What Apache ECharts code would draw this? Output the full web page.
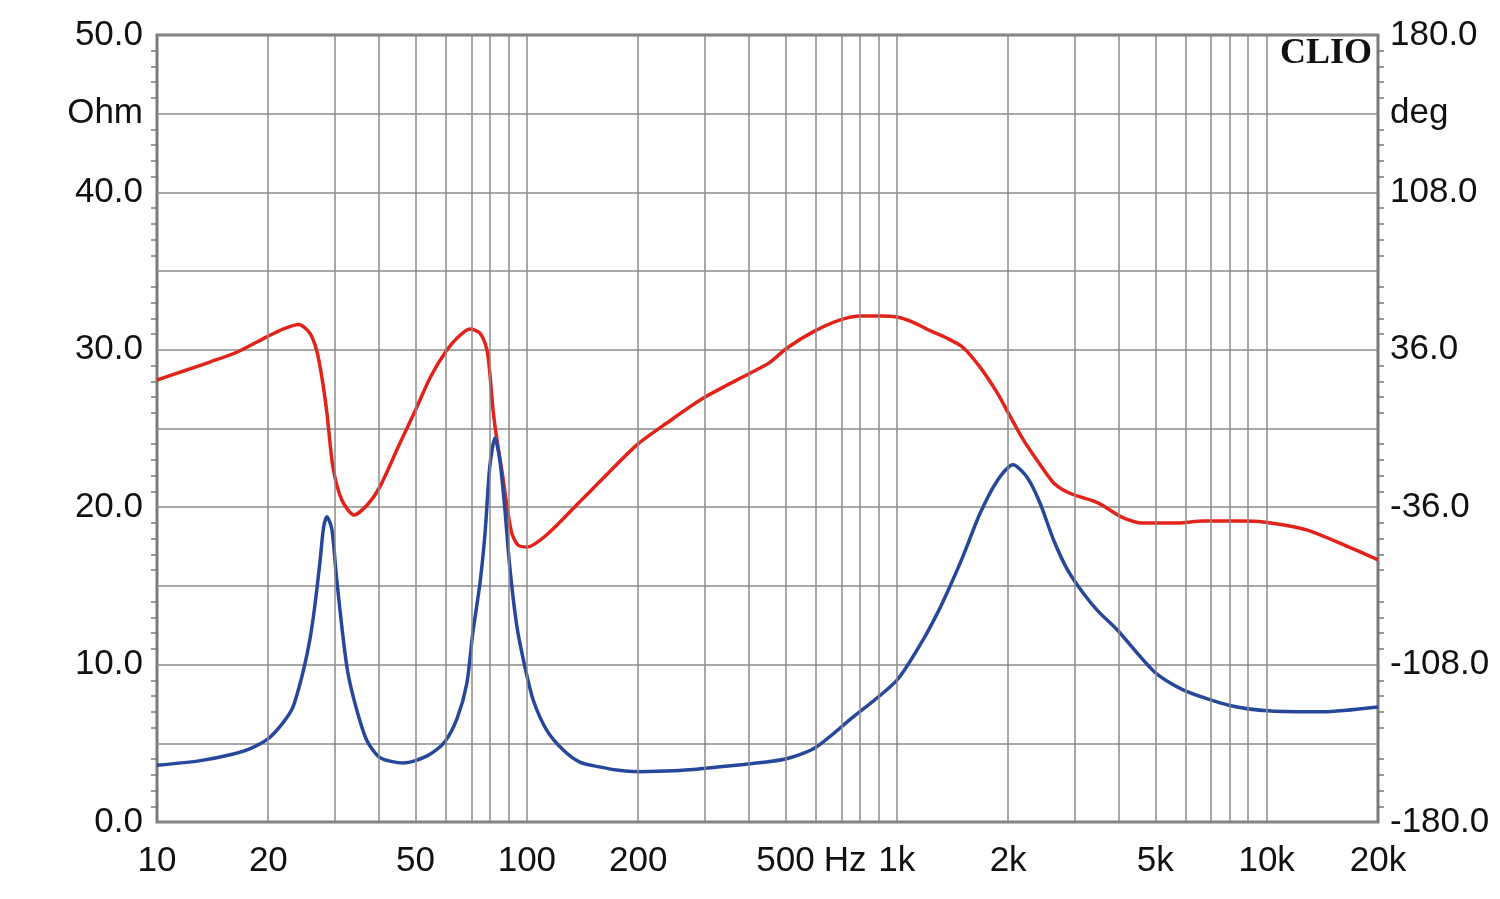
<!DOCTYPE html>
<html>
<head>
<meta charset="utf-8">
<script src="https://cdn.jsdelivr.net/npm/echarts@6/dist/echarts.min.js"></script>
<style>
  html, body { margin: 0; padding: 0; background: #fff; }
  #chart { width: 1500px; height: 899px; }
</style>
</head>
<body>
<div id="chart"></div>
<script>
// impedance magnitude (blue, Ohm)
const impFreq = [10, 13.1, 16, 17.8, 20, 21.9, 23.3, 24.8, 25.9, 26.7, 27.6, 28.2, 28.8, 29.7, 30.5, 31.6, 32.8, 34.7, 36.9, 40, 46.3, 50, 54.7, 60, 64.8, 68.8, 71.4, 74.7, 77.1, 79.4, 82, 84.5, 87.1, 89.9, 94, 98.9, 104, 113, 125, 139, 157, 175, 200, 250, 300, 402, 500, 600, 747, 1000, 1180, 1290, 1364, 1505, 1679, 1871, 2061, 2250, 2436, 2656, 2898, 3201, 3500, 3947, 4995, 5946, 7940, 10280, 14174, 20000]
const impOhm = [3.6, 3.9, 4.3, 4.65, 5.3, 6.3, 7.3, 9.5, 11.6, 13.7, 16.6, 18.7, 19.4, 18.6, 15.8, 12.4, 9.5, 7.1, 5.2, 4.1, 3.75, 3.9, 4.3, 5.1, 6.6, 8.8, 12.0, 15.2, 18.4, 22.6, 24.4, 23.0, 20.0, 16.2, 12.4, 9.8, 7.75, 5.85, 4.6, 3.8, 3.5, 3.3, 3.2, 3.25, 3.4, 3.7, 4.0, 4.7, 6.5, 9.0, 11.6, 13.3, 14.5, 16.8, 19.6, 21.7, 22.7, 21.9, 20.3, 17.9, 16.0, 14.5, 13.4, 12.2, 9.5, 8.4, 7.4, 7.05, 7.0, 7.3]

// impedance phase (red, deg)
const phaseFreq = [10, 11.8, 13.9, 16.5, 19.8, 21.9, 24.2, 25.9, 27, 27.9, 28.8, 29.9, 31.6, 34.1, 37, 40, 45, 50, 54.7, 60, 64.8, 70.2, 74.7, 78, 79.4, 81, 83, 85.8, 88.4, 91, 94.6, 100, 113, 139, 157, 198, 239, 300, 402, 452, 505, 592, 700, 800, 900, 1000, 1104, 1222, 1364, 1505, 1679, 1871, 2004, 2195, 2423, 2656, 2927, 3510, 4056, 4626, 5755, 6727, 8500, 9802, 12831, 16650, 20000]
const phaseDeg = [22.2, 26.3, 30.4, 35.0, 41.9, 45.5, 47.6, 43.6, 35.9, 23.6, 7.1, -17.6, -32.7, -39.6, -35, -26.8, -8, 8.5, 23.1, 34.5, 41.4, 45.5, 43.6, 35.9, 25.4, 8.5, -5.3, -20.4, -35.9, -47.8, -53.3, -54.2, -48.7, -33.5, -24.5, -7.6, 2.5, 13.9, 25.4, 30.0, 36.8, 44.1, 49.6, 51.5, 51.5, 51.0, 48.7, 45.0, 41.4, 37.3, 28.1, 16.2, 7.0, -5.0, -15.8, -24.9, -29.5, -34.1, -40.5, -43.2, -43.2, -42.3, -42.3, -42.8, -46.4, -54.2, -60.1]

// x axis
const gridFreqs = [20, 30, 40, 50, 60, 70, 80, 90, 100, 200, 300, 400, 500, 600, 700, 800, 900, 1000, 2000, 3000, 4000, 5000, 6000, 7000, 8000, 9000, 10000]
const xTickFreqs = [10, 20, 50, 100, 200, 500, 725, 1000, 2000, 5000, 10000, 20000]
const xTickLabels = ['10', '20', '50', '100', '200', '500', 'Hz', '1k', '2k', '5k', '10k', '20k']

const lg = f => Math.log10(f)
const labelFont = { color: '#111', fontSize: 35, fontFamily: 'Liberation Sans, Arial, sans-serif' }

const chart = echarts.init(document.getElementById('chart'), null, { renderer: 'canvas' })

chart.setOption({
  animation: false,
  backgroundColor: '#fff',
  grid: {
    left: 157, right: 122, top: 35, bottom: 77,
    show: true, borderColor: '#7a7a7a', borderWidth: 3
  },
  xAxis: {
    type: 'value',
    min: 1,
    max: lg(20000),
    axisLine: { show: false },
    axisTick: { show: false },
    splitLine: { show: false },
    axisLabel: Object.assign({}, labelFont, {
      margin: 22,
      customValues: xTickFreqs.map(lg),
      formatter: v => {
        const i = xTickFreqs.findIndex(f => Math.abs(lg(f) - v) < 1e-6)
        return i >= 0 ? xTickLabels[i] : ''
      }
    })
  },
  yAxis: [
    {
      type: 'value', min: 0, max: 50, interval: 5,
      axisLine: { show: false },
      axisTick: { show: false },
      minorTick: { show: true, splitNumber: 5, length: 6, inside: true, lineStyle: { color: '#7a7a7a', width: 1.5 } },
      splitLine: { show: true, lineStyle: { color: '#8a8a8a', width: 1.5 } },
      axisLabel: Object.assign({}, labelFont, {
        margin: 14,
        formatter: v => v === 45 ? 'Ohm' : (v % 10 === 0 ? v.toFixed(1) : '')
      })
    },
    {
      type: 'value', min: -180, max: 180, interval: 36,
      axisLine: { show: false },
      axisTick: { show: false },
      minorTick: { show: true, splitNumber: 5, length: 6, inside: true, lineStyle: { color: '#7a7a7a', width: 1.5 } },
      splitLine: { show: false },
      axisLabel: Object.assign({}, labelFont, {
        margin: 12,
        formatter: v => v === 144 ? 'deg' : ((v + 180) % 72 === 0 ? v.toFixed(1) : '')
      })
    }
  ],
  graphic: [{
    type: 'text',
    right: 128,
    top: 36,
    z: 100,
    style: { text: 'CLIO', font: 'bold 36px "Liberation Serif", "Times New Roman", serif', fill: '#111' }
  }],
  series: [
    {
      // vertical log grid
      type: 'line',
      data: [],
      z: 1,
      silent: true,
      markLine: {
        silent: true,
        symbol: ['none', 'none'],
        label: { show: false },
        lineStyle: { color: '#8a8a8a', width: 1.5, type: 'solid' },
        data: gridFreqs.map(f => ({ xAxis: lg(f) }))
      }
    },
    {
      name: 'Phase',
      type: 'line',
      yAxisIndex: 1,
      z: 3,
      smooth: 0.25,
      showSymbol: false,
      lineStyle: { color: '#e2231a', width: 3.5 },
      data: phaseFreq.map((f, i) => [lg(f), phaseDeg[i]])
    },
    {
      name: 'Impedance',
      type: 'line',
      yAxisIndex: 0,
      z: 4,
      smooth: 0.25,
      showSymbol: false,
      lineStyle: { color: '#26479a', width: 3.5 },
      data: impFreq.map((f, i) => [lg(f), impOhm[i]])
    }
  ]
})
</script>
</body>
</html>
